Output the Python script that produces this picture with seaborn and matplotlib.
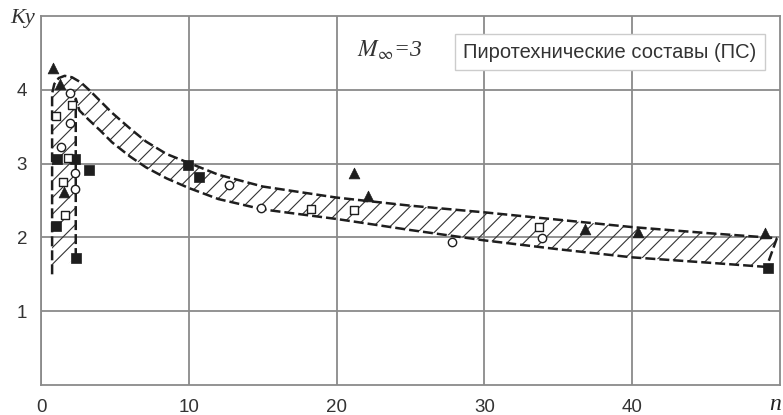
import numpy as np
import matplotlib
matplotlib.use("Agg")
import matplotlib.pyplot as plt
import seaborn as sns

# experimental points, Ky vs n
tri_n = [0.8, 1.27, 1.56, 21.2, 22.1, 36.8, 40.4, 49.0]
tri_ky = [4.30, 4.08, 2.62, 2.87, 2.56, 2.11, 2.07, 2.06]

sqf_n = [1.04, 1.1, 2.3, 3.25, 2.4, 9.95, 10.7, 49.2]
sqf_ky = [2.15, 3.06, 3.06, 2.91, 1.72, 2.98, 2.82, 1.58]

sqo_n = [1.0, 2.08, 1.85, 1.5, 1.62, 18.3, 21.2, 33.7]
sqo_ky = [3.64, 3.79, 3.07, 2.75, 2.30, 2.38, 2.37, 2.14]

cir_n = [1.95, 1.95, 1.33, 2.3, 2.3, 12.7, 14.9, 27.8, 33.9]
cir_ky = [3.96, 3.55, 3.23, 2.87, 2.66, 2.71, 2.40, 1.94, 1.99]

# hatched band: upper edge (with left side of narrow part) and lower edge
top_n = [0.75, 0.75, 0.9, 1.2, 1.6, 2.1, 2.7, 3.3, 4.0, 4.8, 6.0, 7.1, 8.5,
         10, 12, 15, 20, 25, 30, 35, 40, 45, 49.8]
top_ky = [1.50, 3.95, 4.08, 4.16, 4.19, 4.17, 4.10, 3.99, 3.85, 3.69, 3.48,
          3.30, 3.13, 3.01, 2.85, 2.69, 2.54, 2.43, 2.34, 2.24, 2.14, 2.06, 1.99]
bot_n = [2.35, 2.35, 2.6, 3.2, 4.0, 4.8, 6.0, 7.1, 8.5, 10, 12, 15, 20, 25,
         30, 35, 40, 45, 49.1]
bot_ky = [1.72, 3.88, 3.72, 3.60, 3.45, 3.29, 3.10, 2.95, 2.80, 2.67, 2.52,
          2.38, 2.25, 2.10, 1.96, 1.84, 1.73, 1.66, 1.60]

xticks = [0, 10, 20, 30, 40]
yticks = [1, 2, 3, 4]

sns.set_style("white")
plt.rcParams['font.family'] = ['Liberation Sans', 'DejaVu Sans']
plt.rcParams['mathtext.fontset'] = 'stix'
plt.rcParams['hatch.linewidth'] = 0.8
plt.rcParams['hatch.color'] = '#333333'

fig = plt.figure(figsize=(7.83, 4.15), dpi=100)
ax = fig.add_axes([0.0524, 0.0723, 0.9436, 0.889])

ink = '#1e1e1e'
gridc = '#8a8a8a'

# band
poly_n = np.r_[top_n, bot_n[::-1]]
poly_ky = np.r_[top_ky, bot_ky[::-1]]
ax.fill(poly_n, poly_ky, facecolor='none', edgecolor='#333333', hatch='//',
        linewidth=0, zorder=2)
dash = (0, (4, 1.6))
sns.lineplot(x=top_n, y=top_ky, sort=False, estimator=None, ax=ax,
             color=ink, linewidth=1.8, linestyle=dash, zorder=3)
sns.lineplot(x=bot_n, y=bot_ky, sort=False, estimator=None, ax=ax,
             color=ink, linewidth=1.8, linestyle=dash, zorder=3)
sns.lineplot(x=[top_n[-1], bot_n[-1]], y=[top_ky[-1], bot_ky[-1]], sort=False,
             estimator=None, ax=ax, color=ink, linewidth=1.8, linestyle=dash,
             zorder=3)

# points
sns.scatterplot(x=tri_n, y=tri_ky, marker='^', s=60, color=ink,
                edgecolor=ink, linewidth=0.5, ax=ax, zorder=5)
sns.scatterplot(x=sqf_n, y=sqf_ky, marker='s', s=42, color=ink,
                edgecolor=ink, linewidth=0.5, ax=ax, zorder=5)
sns.scatterplot(x=sqo_n, y=sqo_ky, marker='s', s=40, facecolor='white',
                edgecolor=ink, linewidth=1.0, ax=ax, zorder=5)
sns.scatterplot(x=cir_n, y=cir_ky, marker='o', s=36, facecolor='white',
                edgecolor=ink, linewidth=1.0, ax=ax, zorder=5)

ax.set_xlim(0, 50)
ax.set_ylim(0, 5)
ax.set_xticks(xticks)
ax.set_yticks(yticks)
ax.grid(True, color=gridc, linewidth=1.3)
ax.set_axisbelow(True)
for sp in ax.spines.values():
    sp.set_color(gridc)
    sp.set_linewidth(1.3)
ax.tick_params(length=0, labelsize=13.5, colors='#333333', pad=10)
ax.set_xlabel('')
ax.set_ylabel('')

fig.text(0.013, 0.955, 'Ky', fontsize=16, fontstyle='italic',
         family='Liberation Serif', color='#333333', va='center')
fig.text(0.998, 0.0, 'n', fontsize=17, fontstyle='italic',
         family='Liberation Serif', color='#222222', ha='right', va='bottom')

ax.text(23.6, 4.54, r'$M_{\infty}$=3', fontsize=17, fontstyle='italic',
        family='Liberation Serif', color='#333333', ha='center', va='center')
ax.text(38.5, 4.51, 'Пиротехнические составы (ПС)', fontsize=14.5,
        color='#333333', ha='center', va='center', zorder=6,
        bbox=dict(boxstyle='square,pad=0.42', facecolor='white',
                  edgecolor='#cccccc', linewidth=1))

fig.savefig('out.png', dpi=100)
